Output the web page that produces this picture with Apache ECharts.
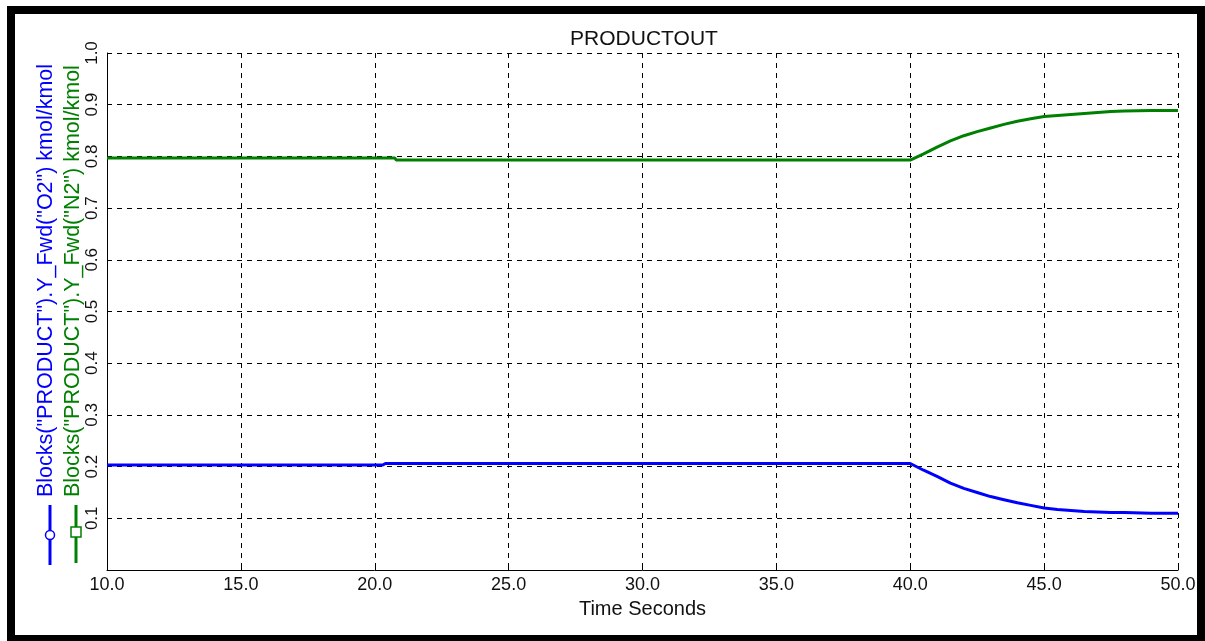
<!DOCTYPE html>
<html>
<head>
<meta charset="utf-8">
<script src="https://cdn.jsdelivr.net/npm/echarts@6/dist/echarts.min.js"></script>
<style>
  html, body { margin: 0; padding: 0; background: #fff; }
  #main { width: 1205px; height: 641px; }
</style>
</head>
<body>
<div id="main"></div>
<script>
// time axis (seconds)
var o2Time = [10, 20.3, 20.4, 40, 40.5, 41, 41.5, 42, 42.5, 43, 43.5, 44, 44.5, 45, 45.5, 46, 46.5, 47, 47.5, 48, 49, 50];
var o2Vals = [0.203, 0.203, 0.206, 0.206, 0.193, 0.181, 0.168, 0.158, 0.150, 0.142, 0.136, 0.130, 0.125, 0.120, 0.117, 0.115, 0.113, 0.112, 0.111, 0.111, 0.110, 0.110];

var n2Time = [10, 20.75, 20.8, 40, 40.5, 41, 41.5, 42, 42.5, 43, 43.5, 44, 44.5, 45, 45.5, 46, 46.5, 47, 47.5, 48, 49, 50];
var n2Vals = [0.797, 0.797, 0.793, 0.793, 0.805, 0.818, 0.830, 0.840, 0.848, 0.855, 0.862, 0.868, 0.873, 0.877, 0.879, 0.881, 0.883, 0.885, 0.887, 0.888, 0.889, 0.889];

var o2Name = 'Blocks("PRODUCT").Y_Fwd("O2") kmol/kmol';
var n2Name = 'Blocks("PRODUCT").Y_Fwd("N2") kmol/kmol';

function pairs(t, v) {
  return t.map(function (x, i) { return [x, v[i]]; });
}

var chart = echarts.init(document.getElementById('main'));
var font = 'Liberation Sans, Arial, sans-serif';

var option = {
  animation: false,
  backgroundColor: '#fff',
  title: {
    text: 'PRODUCTOUT',
    left: 639,
    top: 24,
    textAlign: 'center',
    textStyle: { fontFamily: font, fontSize: 21, fontWeight: 'normal', color: '#111' }
  },
  grid: { left: 107, top: 53, right: 27, bottom: 71 },
  xAxis: {
    type: 'value',
    min: 10,
    max: 50,
    interval: 5,
    name: 'Time Seconds',
    nameLocation: 'middle',
    nameGap: 29,
    nameTextStyle: { fontFamily: font, fontSize: 20, color: '#111' },
    axisLine: { lineStyle: { color: '#000', width: 1 } },
    axisTick: { inside: true, length: 4, lineStyle: { color: '#000' } },
    axisLabel: {
      fontFamily: font, fontSize: 18, color: '#111', margin: 6,
      formatter: function (v) { return v.toFixed(1); }
    },
    splitLine: { show: true, lineStyle: { color: '#000', type: [5, 5], width: 1 } }
  },
  yAxis: {
    type: 'value',
    min: 0,
    max: 1,
    interval: 0.1,
    axisLine: { show: true, lineStyle: { color: '#000', width: 1 } },
    axisTick: { show: true, inside: true, length: 4, lineStyle: { color: '#000' } },
    axisLabel: {
      fontFamily: font, fontSize: 17, color: '#111', rotate: 90, margin: 6,
      showMinLabel: false,
      formatter: function (v) { return v.toFixed(1); }
    },
    splitLine: { show: true, lineStyle: { color: '#000', type: [5, 5], width: 1 } }
  },
  series: [
    {
      name: o2Name,
      type: 'line',
      data: pairs(o2Time, o2Vals),
      showSymbol: false,
      lineStyle: { color: '#0000ff', width: 3 },
      itemStyle: { color: '#0000ff' }
    },
    {
      name: n2Name,
      type: 'line',
      data: pairs(n2Time, n2Vals),
      showSymbol: false,
      lineStyle: { color: '#008000', width: 3 },
      itemStyle: { color: '#008000' }
    }
  ],
  graphic: [
    // outer frame
    { type: 'rect', shape: { x: 11, y: 10, width: 1190, height: 629 }, style: { fill: 'none', stroke: '#000', lineWidth: 8 }, silent: true },
    // O2 legend (vertical)
    { type: 'line', shape: { x1: 50, y1: 505, x2: 50, y2: 565 }, style: { stroke: '#0000ff', lineWidth: 3 } },
    { type: 'circle', shape: { cx: 50, cy: 535, r: 4.5 }, style: { fill: '#fff', stroke: '#0000ff', lineWidth: 1.5 } },
    { type: 'text', x: 46, y: 497, rotation: Math.PI / 2,
      style: { text: o2Name, fill: '#0000ff', font: '21.5px Liberation Sans, Arial, sans-serif', align: 'left', verticalAlign: 'middle' } },
    // N2 legend (vertical)
    { type: 'line', shape: { x1: 76, y1: 505, x2: 76, y2: 563 }, style: { stroke: '#008000', lineWidth: 3 } },
    { type: 'rect', shape: { x: 71, y: 527, width: 10, height: 10 }, style: { fill: '#fff', stroke: '#008000', lineWidth: 1.5 } },
    { type: 'text', x: 73, y: 497, rotation: Math.PI / 2,
      style: { text: n2Name, fill: '#008000', font: '21.5px Liberation Sans, Arial, sans-serif', align: 'left', verticalAlign: 'middle' } }
  ]
};

chart.setOption(option);
</script>
</body>
</html>
